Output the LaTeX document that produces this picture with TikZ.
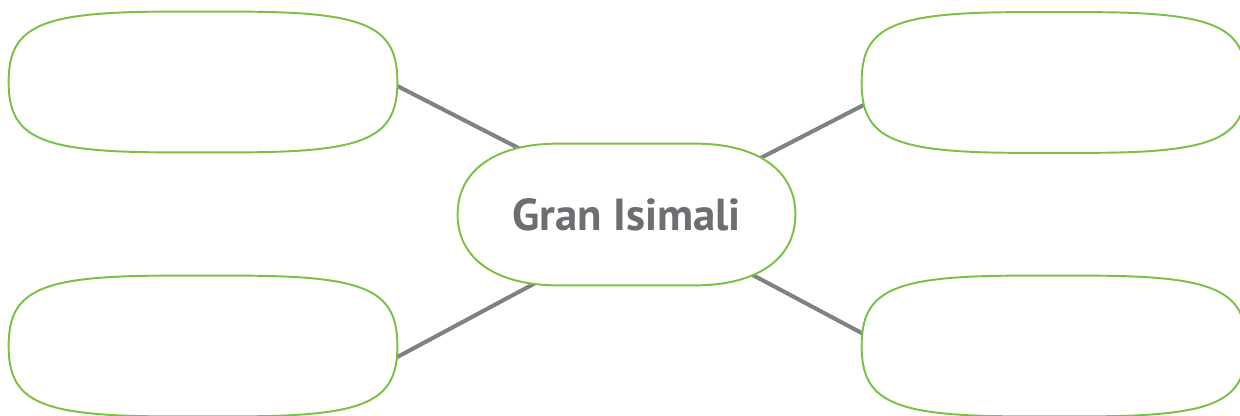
\documentclass[tikz,border=0pt]{standalone}
\usepackage{fontspec}
\newfontfamily\labelfont{PT Sans}
\usetikzlibrary{calc}
\usetikzlibrary{backgrounds}

\definecolor{blobgreen}{HTML}{7AC143}
\definecolor{linkgrey}{HTML}{808184}
\definecolor{textgrey}{HTML}{6D6E71}

\tikzset{
  box/.style={inner sep=0pt, minimum width=7.76cm, minimum height=2.8cm},
  blob/.style={draw=blobgreen, line width=1.1pt, fill=white},
  link/.style={draw=linkgrey, line width=2.3pt, shorten <=-4pt, shorten >=-4pt},
}

% outline round a node: #1 node, #2 x radius, #3 y radius, #4 control factor
\newcommand{\drawblob}[4]{%
  \path[blob] let \p1=(#1.south west), \p2=(#1.north east) in
    (\x1+#2,\y2) -- (\x2-#2,\y2)
    .. controls (\x2-#4*#2,\y2) and (\x2,\y2-#4*#3) .. (\x2,\y2-#3)
    -- (\x2,\y1+#3)
    .. controls (\x2,\y1+#4*#3) and (\x2-#4*#2,\y1) .. (\x2-#2,\y1)
    -- (\x1+#2,\y1)
    .. controls (\x1+#4*#2,\y1) and (\x1,\y1+#4*#3) .. (\x1,\y1+#3)
    -- (\x1,\y2-#3)
    .. controls (\x1,\y2-#4*#3) and (\x1+#4*#2,\y2) .. (\x1+#2,\y2)
    -- cycle;}

\begin{document}
\begin{tikzpicture}
\useasboundingbox (0,0) rectangle (24.8,8.32);

\node[box] (tl) at (4.06,6.68) {};
\node[box,minimum width=7.68cm] (tr) at (21.08,6.67) {};
\node[box] (bl) at (4.06,1.40) {};
\node[box,minimum width=7.68cm] (br) at (21.08,1.40) {};
\node[box,minimum width=6.74cm,minimum height=2.82cm,text=textgrey,
  font=\labelfont\bfseries\fontsize{25.5}{30}\selectfont] (cn) at (12.53,4.03) {Gran Isimali};

\begin{pgfonlayer}{background}
\draw[link] ([yshift=-0.08cm]tl.east) -- ([xshift=1.24cm,yshift=-0.10cm]cn.north west);
\draw[link] ([xshift=0.04cm,yshift=-0.45cm]tr.west) -- ([xshift=-0.64cm,yshift=-0.26cm]cn.north east);
\draw[link] ([yshift=-0.22cm]bl.east) -- ([xshift=1.58cm,yshift=0.06cm]cn.south west);
\draw[link] ([yshift=0.26cm]br.west) -- ([xshift=-0.84cm,yshift=0.20cm]cn.south east);

\drawblob{tl}{3.2cm}{1.4cm}{0.2}
\drawblob{tr}{3.2cm}{1.39cm}{0.2}
\drawblob{bl}{3.2cm}{1.4cm}{0.2}
\drawblob{br}{3.2cm}{1.4cm}{0.2}
\drawblob{cn}{2.0cm}{1.41cm}{0.38}
\end{pgfonlayer}

\end{tikzpicture}
\end{document}
